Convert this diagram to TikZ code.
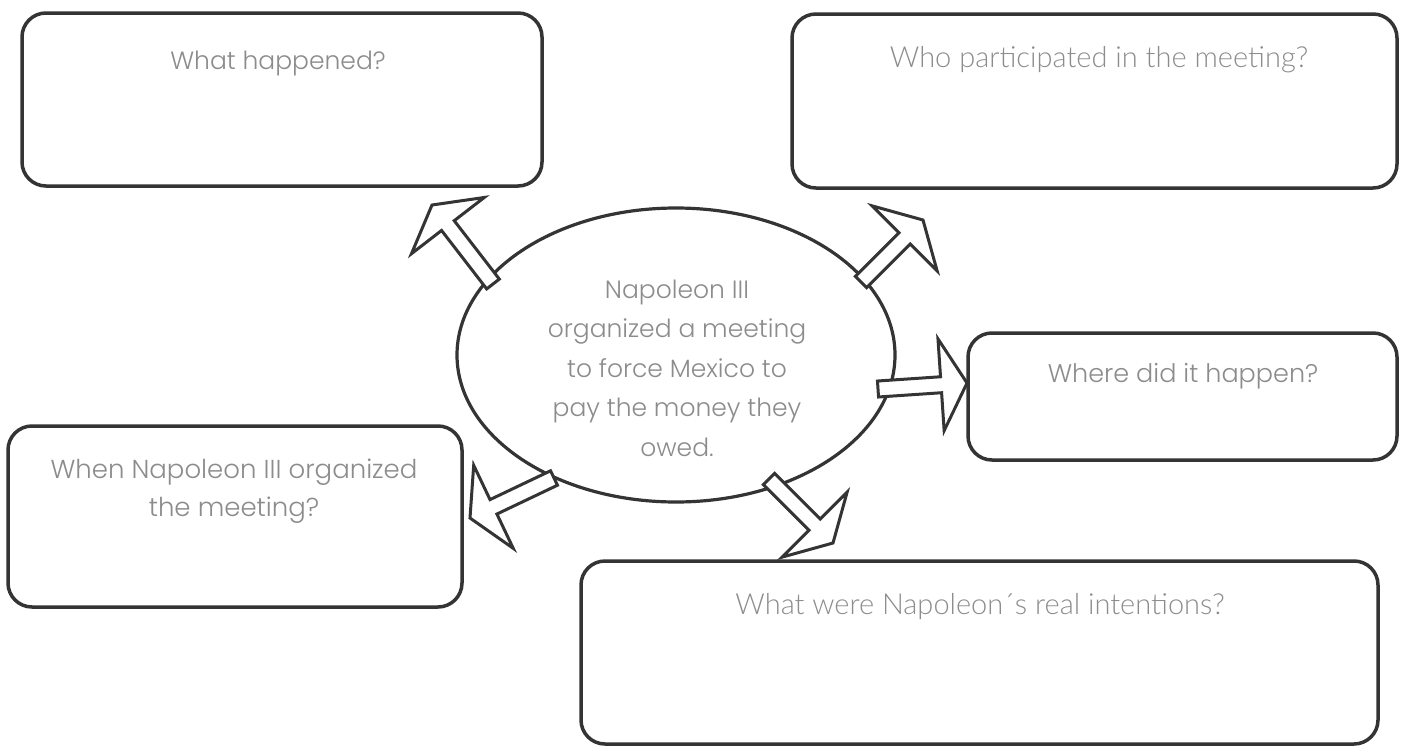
\documentclass[tikz,border=0pt]{standalone}
\usepackage{fontspec}
\setmainfont{Poppins Light}
\newfontfamily\segoefont{Lato Light}
\usetikzlibrary{shapes.geometric,calc}
\definecolor{ink}{RGB}{52,52,52}
\definecolor{txt}{RGB}{140,140,140}
\tikzset{
  qbox/.style={draw=ink, line width=3.5pt, rounded corners=24pt, fill=white},
  qtext/.style={text=txt, font=\fontsize{23}{36}\selectfont, align=center, inner sep=0pt},
  segtext/.style={qtext, font=\segoefont\fontsize{29}{36}\selectfont},
  arrowshape/.style={draw=ink, line width=3pt, fill=white, line join=miter},
}
\newcommand{\blockarrow}[2]{%
  \coordinate (H) at ($(#2)!26pt!(#1)$);
  \draw[arrowshape]
    ($(#1)!8pt!90:(#2)$) -- ($(H)!8pt!90:(#2)$) -- ($(H)!46pt!90:(#2)$) -- (#2)
    -- ($(H)!46pt!-90:(#2)$) -- ($(H)!8pt!-90:(#2)$) -- ($(#1)!8pt!-90:(#2)$) -- cycle;
}
\begin{document}
\begin{tikzpicture}[x=1pt,y=-1pt]
\useasboundingbox[fill=white] (0,0) rectangle (1403,747);
% boxes
\draw[qbox] (22,13) rectangle (542,186);
\draw[qbox] (792,14) rectangle (1397,188);
\draw[qbox] (968,333) rectangle (1397,460);
\draw[qbox] (8,426) rectangle (462,607);
\draw[qbox] (581,561) rectangle (1378,744);
% box texts
\node[qtext, font=\fontsize{25}{36}\selectfont] (t1) at (278,63) {What happened?};
\node[segtext] (t2) at (1099,60) {Who participated in the meeting?};
\node[qtext, font=\fontsize{25.5}{36}\selectfont] (t3) at (1183,376) {Where did it happen?};
\node[qtext, font=\fontsize{26}{38}\selectfont] (t4) at (234,491) {When Napoleon III organized\\the meeting?};
\node[segtext] (t5) at (980,606) {What were Napoleon´s real intentions?};
% centre
\node[draw=ink, line width=3.2pt, ellipse, minimum width=438pt, minimum height=294pt, inner sep=0pt] (c) at (676,355) {};
\node[qtext, font=\fontsize{25}{39.5}\selectfont] (ct) at (677,368) {Napoleon III\\organized a meeting\\to force Mexico to\\pay the money they\\owed.};
% arrows
\coordinate (a1b) at (493,284); \coordinate (a1t) at (432,205);
\coordinate (a2b) at (861,282); \coordinate (a2t) at (923,220);
\coordinate (a3b) at (878,389); \coordinate (a3t) at (967,383);
\coordinate (a4b) at (554,478); \coordinate (a4t) at (470,518);
\coordinate (a5b) at (769,479); \coordinate (a5t) at (833,543);
\blockarrow{a1b}{a1t}
\blockarrow{a2b}{a2t}
\blockarrow{a3b}{a3t}
\blockarrow{a4b}{a4t}
\blockarrow{a5b}{a5t}
\end{tikzpicture}
\end{document}
